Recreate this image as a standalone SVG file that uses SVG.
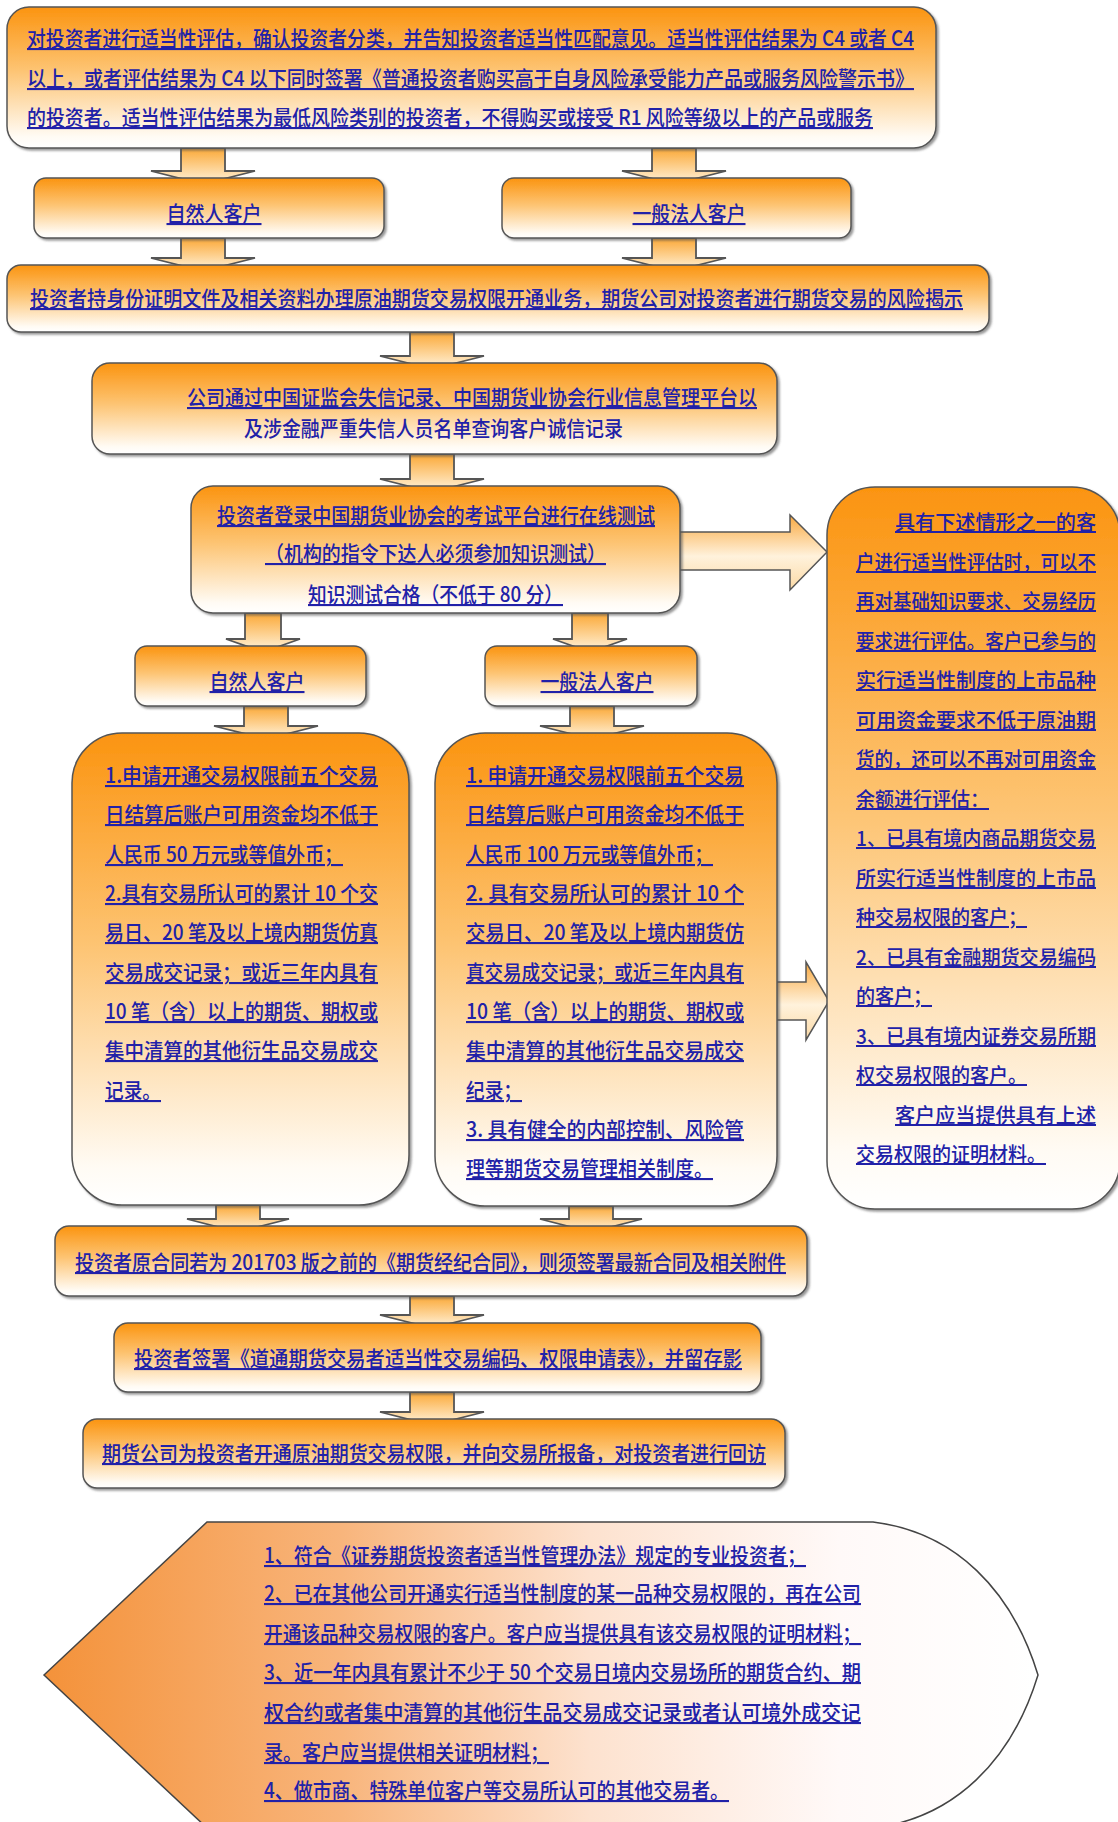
<svg xmlns="http://www.w3.org/2000/svg" width="1118" height="1822" viewBox="0 0 1118 1822">
<defs>
<linearGradient id="gBox" x1="0" y1="0" x2="0" y2="1">
<stop offset="0" stop-color="#fb9410"/>
<stop offset="0.45" stop-color="#fdc473"/>
<stop offset="0.92" stop-color="#fffbf4"/>
<stop offset="1" stop-color="#ffffff"/>
</linearGradient>
<linearGradient id="gArrV" x1="0" y1="0" x2="0" y2="1">
<stop offset="0" stop-color="#fba836"/>
<stop offset="1" stop-color="#fff4de"/>
</linearGradient>
<linearGradient id="gArrH" x1="0" y1="0" x2="0" y2="1">
<stop offset="0" stop-color="#f9a940"/>
<stop offset="0.55" stop-color="#fff2dc"/>
<stop offset="1" stop-color="#fbd9a5"/>
</linearGradient>
<linearGradient id="gBottom" gradientUnits="userSpaceOnUse" x1="44" y1="0" x2="1038" y2="0">
<stop offset="0" stop-color="#f4923a"/>
<stop offset="0.3" stop-color="#f8b57c"/>
<stop offset="0.55" stop-color="#fde2cf"/>
<stop offset="0.8" stop-color="#fff9f8"/>
<stop offset="1" stop-color="#ffffff"/>
</linearGradient>
<filter id="sh" x="-5%" y="-5%" width="110%" height="115%">
<feDropShadow dx="2" dy="2" stdDeviation="1.2" flood-color="#555" flood-opacity="0.6"/>
</filter>
</defs>
<style>
.box { fill: url(#gBox); stroke: #555; stroke-width: 1.5; filter: url(#sh); }
.arr { fill: url(#gArrV); stroke: #555; stroke-width: 1.8; }
.arrh { fill: url(#gArrH); stroke: #555; stroke-width: 1.5; }
.t { font-family: "Noto Sans CJK SC", "Noto Sans", sans-serif; font-size: 21px; font-weight: 500; fill: #2121a8; text-decoration: underline; }
.r { font-size: 20px; }
.nu { text-decoration: none; }
.c { text-anchor: middle; }
</style>
<rect width="1118" height="1822" fill="#ffffff"/>

<g id="connectors">
<path class="arr" d="M181,148 V171 H151 L203,184 L255,171 H225 V148 Z"/>
<path class="arr" d="M652,148 V171 H622 L674,184 L726,171 H696 V148 Z"/>
<path class="arr" d="M181,238 V258 H151 L203,271 L255,258 H225 V238 Z"/>
<path class="arr" d="M652,238 V258 H622 L674,271 L726,258 H696 V238 Z"/>
<path class="arr" d="M410,332 V356 H380 L432,369 L484,356 H454 V332 Z"/>
<path class="arr" d="M410,454 V479 H380 L432,492 L484,479 H454 V454 Z"/>
<path class="arr" d="M245,613 V639 H226 L263,652 L300,639 H281 V613 Z"/>
<path class="arr" d="M572,613 V639 H553 L590,652 L627,639 H608 V613 Z"/>
<path class="arr" d="M244,706 V726 H214 L266,739 L318,726 H288 V706 Z"/>
<path class="arr" d="M570,706 V726 H540 L592,739 L644,726 H614 V706 Z"/>
<path class="arr" d="M216,1205 V1219 H187 L238,1232 L289,1219 H260 V1205 Z"/>
<path class="arr" d="M569,1206 V1219 H540 L591,1232 L642,1219 H613 V1206 Z"/>
<path class="arr" d="M410,1296 V1315 H380 L432,1328 L484,1315 H454 V1296 Z"/>
<path class="arr" d="M410,1392 V1412 H380 L432,1425 L484,1412 H454 V1392 Z"/>
<path class="arrh" d="M678,532 H790 V515 L827,552 L790,590 V570 H678 Z"/>
<path class="arrh" d="M775,982 H806 V962 L829,1001 L806,1040 V1020 H775 Z"/>
</g>

<g id="n-top">
<rect class="box" x="7" y="7" width="929" height="141" rx="22"/>
<text class="t" x="27" y="46" textLength="887" lengthAdjust="spacingAndGlyphs">对投资者进行适当性评估，确认投资者分类，并告知投资者适当性匹配意见。适当性评估结果为 C4 或者 C4</text>
<text class="t" x="27" y="86" textLength="887" lengthAdjust="spacingAndGlyphs">以上，或者评估结果为 C4 以下同时签署《普通投资者购买高于自身风险承受能力产品或服务风险警示书》</text>
<text class="t" x="27" y="125" textLength="846" lengthAdjust="spacingAndGlyphs">的投资者。适当性评估结果为最低风险类别的投资者，不得购买或接受 R1 风险等级以上的产品或服务</text>
</g>

<g id="n-natural1">
<rect class="box" x="34" y="178" width="350" height="60" rx="12"/>
<text class="t c" x="214" y="221" textLength="95" lengthAdjust="spacingAndGlyphs">自然人客户</text>
</g>
<g id="n-legal1">
<rect class="box" x="502" y="178" width="349" height="60" rx="12"/>
<text class="t c" x="689" y="221" textLength="113" lengthAdjust="spacingAndGlyphs">一般法人客户</text>
</g>

<g id="n-open">
<rect class="box" x="7" y="265" width="982" height="67" rx="14"/>
<text class="t" x="30" y="306" textLength="933" lengthAdjust="spacingAndGlyphs">投资者持身份证明文件及相关资料办理原油期货交易权限开通业务，期货公司对投资者进行期货交易的风险揭示</text>
</g>

<g id="n-credit">
<rect class="box" x="92" y="363" width="685" height="91" rx="18"/>
<text class="t" x="187" y="405" textLength="570" lengthAdjust="spacingAndGlyphs">公司通过中国证监会失信记录、中国期货业协会行业信息管理平台以</text>
<text class="t nu" x="244" y="436" textLength="379" lengthAdjust="spacingAndGlyphs">及涉金融严重失信人员名单查询客户诚信记录</text>
</g>

<g id="n-test">
<rect class="box" x="191" y="486" width="489" height="127" rx="22"/>
<text class="t" x="217" y="523" textLength="438" lengthAdjust="spacingAndGlyphs">投资者登录中国期货业协会的考试平台进行在线测试</text>
<text class="t" x="265" y="561" textLength="341" lengthAdjust="spacingAndGlyphs">（机构的指令下达人必须参加知识测试）</text>
<text class="t" x="308" y="602" textLength="255" lengthAdjust="spacingAndGlyphs">知识测试合格（不低于 80 分）</text>
</g>

<g id="n-natural2">
<rect class="box" x="135" y="646" width="231" height="60" rx="12"/>
<text class="t c" x="257" y="689" textLength="95" lengthAdjust="spacingAndGlyphs">自然人客户</text>
</g>
<g id="n-legal2">
<rect class="box" x="485" y="646" width="212" height="60" rx="12"/>
<text class="t c" x="597" y="689" textLength="113" lengthAdjust="spacingAndGlyphs">一般法人客户</text>
</g>

<g id="n-natural-req">
<rect class="box" x="72" y="733" width="337" height="472" rx="50"/>
<text class="t" x="105" y="783" textLength="273" lengthAdjust="spacingAndGlyphs">1.申请开通交易权限前五个交易</text>
<text class="t" x="105" y="822" textLength="273" lengthAdjust="spacingAndGlyphs">日结算后账户可用资金均不低于</text>
<text class="t" x="105" y="862" textLength="238" lengthAdjust="spacingAndGlyphs">人民币 50 万元或等值外币；</text>
<text class="t" x="105" y="901" textLength="273" lengthAdjust="spacingAndGlyphs">2.具有交易所认可的累计 10 个交</text>
<text class="t" x="105" y="940" textLength="273" lengthAdjust="spacingAndGlyphs">易日、20 笔及以上境内期货仿真</text>
<text class="t" x="105" y="980" textLength="273" lengthAdjust="spacingAndGlyphs">交易成交记录；或近三年内具有</text>
<text class="t" x="105" y="1019" textLength="273" lengthAdjust="spacingAndGlyphs">10 笔（含）以上的期货、期权或</text>
<text class="t" x="105" y="1058" textLength="273" lengthAdjust="spacingAndGlyphs">集中清算的其他衍生品交易成交</text>
<text class="t" x="105" y="1098" textLength="56" lengthAdjust="spacingAndGlyphs">记录。</text>
</g>

<g id="n-legal-req">
<rect class="box" x="435" y="733" width="342" height="473" rx="50"/>
<text class="t" x="466" y="783" textLength="278" lengthAdjust="spacingAndGlyphs">1.  申请开通交易权限前五个交易</text>
<text class="t" x="466" y="822" textLength="278" lengthAdjust="spacingAndGlyphs">日结算后账户可用资金均不低于</text>
<text class="t" x="466" y="862" textLength="247" lengthAdjust="spacingAndGlyphs">人民币 100 万元或等值外币；</text>
<text class="t" x="466" y="901" textLength="278" lengthAdjust="spacingAndGlyphs">2.  具有交易所认可的累计 10 个</text>
<text class="t" x="466" y="940" textLength="278" lengthAdjust="spacingAndGlyphs">交易日、20 笔及以上境内期货仿</text>
<text class="t" x="466" y="980" textLength="278" lengthAdjust="spacingAndGlyphs">真交易成交记录；或近三年内具有</text>
<text class="t" x="466" y="1019" textLength="278" lengthAdjust="spacingAndGlyphs">10 笔（含）以上的期货、期权或</text>
<text class="t" x="466" y="1058" textLength="278" lengthAdjust="spacingAndGlyphs">集中清算的其他衍生品交易成交</text>
<text class="t" x="466" y="1098" textLength="56" lengthAdjust="spacingAndGlyphs">纪录；</text>
<text class="t" x="466" y="1137" textLength="278" lengthAdjust="spacingAndGlyphs">3.  具有健全的内部控制、风险管</text>
<text class="t" x="466" y="1176" textLength="247" lengthAdjust="spacingAndGlyphs">理等期货交易管理相关制度。</text>
</g>

<g id="n-exempt">
<rect class="box" x="827" y="487" width="293" height="722" rx="48"/>
<text class="t r" x="895" y="530" textLength="201" lengthAdjust="spacingAndGlyphs">具有下述情形之一的客</text>
<text class="t r" x="856" y="570" textLength="240" lengthAdjust="spacingAndGlyphs">户进行适当性评估时，可以不</text>
<text class="t r" x="856" y="609" textLength="240" lengthAdjust="spacingAndGlyphs">再对基础知识要求、交易经历</text>
<text class="t r" x="856" y="649" textLength="240" lengthAdjust="spacingAndGlyphs">要求进行评估。客户已参与的</text>
<text class="t r" x="856" y="688" textLength="240" lengthAdjust="spacingAndGlyphs">实行适当性制度的上市品种</text>
<text class="t r" x="856" y="728" textLength="240" lengthAdjust="spacingAndGlyphs">可用资金要求不低于原油期</text>
<text class="t r" x="856" y="767" textLength="240" lengthAdjust="spacingAndGlyphs">货的，还可以不再对可用资金</text>
<text class="t r" x="856" y="807" textLength="133" lengthAdjust="spacingAndGlyphs">余额进行评估：</text>
<text class="t r" x="856" y="846" textLength="240" lengthAdjust="spacingAndGlyphs">1、已具有境内商品期货交易</text>
<text class="t r" x="856" y="886" textLength="240" lengthAdjust="spacingAndGlyphs">所实行适当性制度的上市品</text>
<text class="t r" x="856" y="925" textLength="171" lengthAdjust="spacingAndGlyphs">种交易权限的客户；</text>
<text class="t r" x="856" y="965" textLength="240" lengthAdjust="spacingAndGlyphs">2、已具有金融期货交易编码</text>
<text class="t r" x="856" y="1004" textLength="76" lengthAdjust="spacingAndGlyphs">的客户；</text>
<text class="t r" x="856" y="1044" textLength="240" lengthAdjust="spacingAndGlyphs">3、已具有境内证券交易所期</text>
<text class="t r" x="856" y="1083" textLength="171" lengthAdjust="spacingAndGlyphs">权交易权限的客户。</text>
<text class="t r" x="895" y="1123" textLength="201" lengthAdjust="spacingAndGlyphs">客户应当提供具有上述</text>
<text class="t r" x="856" y="1162" textLength="190" lengthAdjust="spacingAndGlyphs">交易权限的证明材料。</text>
</g>

<g id="n-contract">
<rect class="box" x="55" y="1226" width="752" height="70" rx="14"/>
<text class="t" x="75" y="1270" textLength="711" lengthAdjust="spacingAndGlyphs">投资者原合同若为 201703 版之前的《期货经纪合同》，则须签署最新合同及相关附件</text>
</g>

<g id="n-sign">
<rect class="box" x="114" y="1323" width="647" height="69" rx="14"/>
<text class="t" x="134" y="1366" textLength="608" lengthAdjust="spacingAndGlyphs">投资者签署《道通期货交易者适当性交易编码、权限申请表》，并留存影</text>
</g>

<g id="n-grant">
<rect class="box" x="83" y="1419" width="702" height="69" rx="14"/>
<text class="t" x="102" y="1461" textLength="664" lengthAdjust="spacingAndGlyphs">期货公司为投资者开通原油期货交易权限，并向交易所报备，对投资者进行回访</text>
</g>

<g id="n-professional">
<path d="M44,1675 L207,1522 L873,1522 C955,1532 1012,1590 1038,1675 C1012,1760 955,1818 873,1828 L207,1828 Z" fill="url(#gBottom)" stroke="#444" stroke-width="1.5"/>
<text class="t" x="264" y="1563" textLength="542" lengthAdjust="spacingAndGlyphs">1、符合《证券期货投资者适当性管理办法》规定的专业投资者；</text>
<text class="t" x="264" y="1601" textLength="597" lengthAdjust="spacingAndGlyphs">2、已在其他公司开通实行适当性制度的某一品种交易权限的，再在公司</text>
<text class="t" x="264" y="1641" textLength="597" lengthAdjust="spacingAndGlyphs">开通该品种交易权限的客户。客户应当提供具有该交易权限的证明材料；</text>
<text class="t" x="264" y="1680" textLength="597" lengthAdjust="spacingAndGlyphs">3、近一年内具有累计不少于 50 个交易日境内交易场所的期货合约、期</text>
<text class="t" x="264" y="1720" textLength="597" lengthAdjust="spacingAndGlyphs">权合约或者集中清算的其他衍生品交易成交记录或者认可境外成交记</text>
<text class="t" x="264" y="1760" textLength="285" lengthAdjust="spacingAndGlyphs">录。客户应当提供相关证明材料；</text>
<text class="t" x="264" y="1798" textLength="465" lengthAdjust="spacingAndGlyphs">4、做市商、特殊单位客户等交易所认可的其他交易者。</text>
</g>
</svg>
